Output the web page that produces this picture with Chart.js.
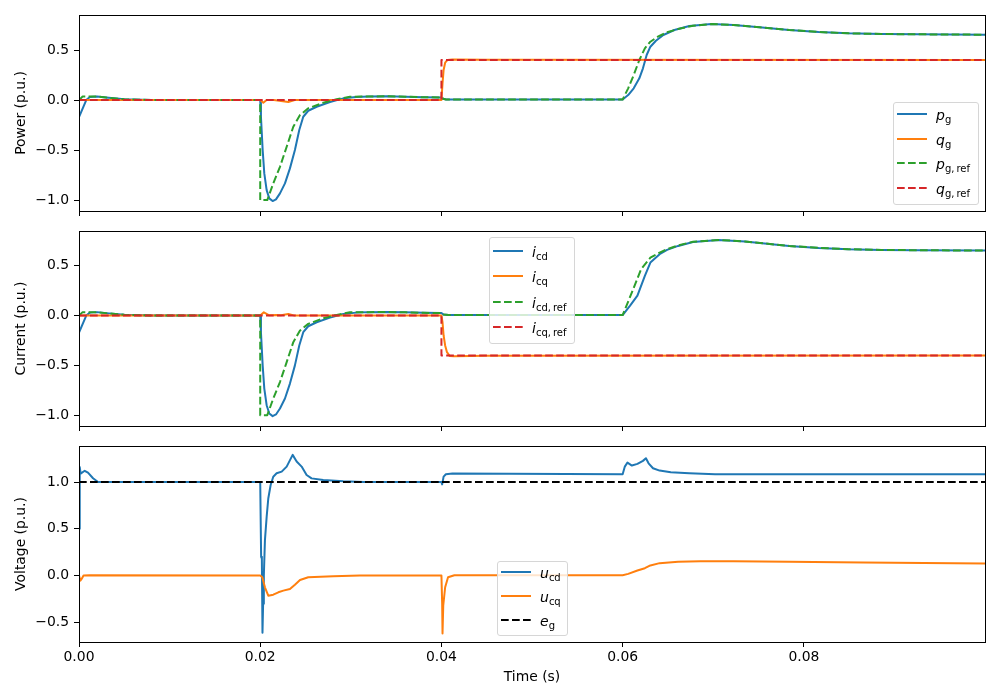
<!DOCTYPE html>
<html>
<head>
<meta charset="utf-8">
<script src="https://cdn.jsdelivr.net/npm/chart.js@4.4.1/dist/chart.umd.min.js"></script>
<style>
  body { margin: 0; background: #fff; }
  #wrap { position: relative; width: 1000px; height: 700px; font-family: 'DejaVu Sans', sans-serif; }
  #wrap canvas { position: absolute; left: 0; }
  .legend { position: absolute; background: rgba(255,255,255,0.8); border: 1px solid #d6d6d6; border-radius: 3px; box-sizing: border-box; }
  .legend .row { position: absolute; left: 0; height: 0; }
  .legend svg { position: absolute; left: 3px; top: -2px; }
  .legend .lab { position: absolute; left: 42px; top: -8px; font-size: 14px; line-height: 18px; white-space: nowrap; color: #000; }
  .lab i { font-style: italic; }
  .lab sub { font-size: 10px; vertical-align: -3px; line-height: 0; }
</style>
</head>
<body>
<div id="wrap">
  <canvas id="cPower" width="1000" height="225" style="top:0"></canvas>
  <canvas id="cCurrent" width="1000" height="215" style="top:225px"></canvas>
  <canvas id="cVoltage" width="1000" height="260" style="top:440px"></canvas>
</div>
<script>
// ---- data ----
const xTicks = [0, 0.02, 0.04, 0.06, 0.08];
const yTicksPI = [-1.0, -0.5, 0.0, 0.5];
const yTicksU = [-0.5, 0.0, 0.5, 1.0];
const tEnd = 0.09999;

// Power panel
const tPg = [0, 0.0008, 0.0012, 0.002, 0.003, 0.005, 0.008, 0.02, 0.02008, 0.02027, 0.02045, 0.02071, 0.021, 0.02137, 0.02174, 0.02218, 0.02273, 0.02328, 0.02383, 0.02431, 0.02475, 0.0253, 0.02623, 0.0277, 0.02917, 0.0306, 0.032, 0.034, 0.036, 0.038, 0.04, 0.0402, 0.0405, 0.06, 0.06061, 0.06122, 0.06184, 0.06224, 0.06265, 0.06306, 0.06367, 0.06449, 0.06571, 0.06735, 0.0698, 0.07224, 0.0751, 0.07837, 0.08163, 0.0849, 0.08857, 0.09265, 0.09999];
const pg = [-0.17, 0.0, 0.03, 0.035, 0.025, 0.008, 0.0, 0.0, -0.167, -0.5, -0.733, -0.9, -0.983, -1.01, -0.993, -0.933, -0.833, -0.683, -0.5, -0.3, -0.167, -0.107, -0.067, -0.02, 0.017, 0.03, 0.035, 0.037, 0.033, 0.028, 0.026, 0.012, 0.006, 0.006, 0.05, 0.117, 0.217, 0.317, 0.45, 0.533, 0.593, 0.65, 0.70, 0.74, 0.76, 0.75, 0.727, 0.70, 0.68, 0.667, 0.66, 0.657, 0.653];
const tPgRef = [0, 0.0004, 0.0012, 0.002, 0.003, 0.005, 0.008, 0.02, 0.02, 0.02078, 0.02144, 0.02218, 0.02292, 0.02365, 0.02439, 0.0253, 0.02696, 0.02843, 0.0299, 0.032, 0.034, 0.036, 0.038, 0.04, 0.0402, 0.0405, 0.06, 0.06061, 0.06122, 0.06184, 0.06245, 0.06306, 0.06388, 0.0649, 0.06612, 0.06776, 0.0698, 0.07224, 0.0751, 0.07837, 0.08163, 0.0849, 0.08857, 0.09265, 0.09999];
const pgRef = [0.0, 0.035, 0.035, 0.035, 0.025, 0.008, 0.0, 0.0, -1.0, -1.0, -0.833, -0.667, -0.467, -0.267, -0.15, -0.083, -0.027, 0.007, 0.033, 0.035, 0.037, 0.033, 0.028, 0.026, 0.012, 0.006, 0.006, 0.117, 0.25, 0.40, 0.517, 0.583, 0.633, 0.677, 0.71, 0.743, 0.76, 0.75, 0.727, 0.70, 0.68, 0.667, 0.66, 0.657, 0.653];
const tQg = [0, 0.02, 0.02034, 0.0207, 0.0215, 0.0231, 0.0238, 0.04, 0.04012, 0.04024, 0.04041, 0.04065, 0.0412, 0.045, 0.09999];
const qg = [0, 0, -0.027, 0, 0, -0.02, 0, 0, 0.167, 0.3, 0.373, 0.4, 0.405, 0.402, 0.4];
const tQgRef = [0, 0.04, 0.04, 0.09999];
const qgRef = [0, 0, 0.4, 0.4];

// Current panel
const tIcd = [0, 0.0008, 0.0012, 0.002, 0.003, 0.005, 0.008, 0.02, 0.02008, 0.02027, 0.02045, 0.02071, 0.021, 0.02137, 0.02174, 0.02218, 0.02273, 0.02328, 0.02383, 0.02431, 0.02475, 0.0253, 0.02623, 0.0277, 0.02917, 0.0306, 0.032, 0.034, 0.036, 0.038, 0.04, 0.0402, 0.0408, 0.06, 0.06082, 0.06163, 0.06245, 0.06306, 0.06408, 0.0649, 0.06612, 0.06776, 0.0706, 0.0735, 0.07837, 0.08163, 0.0849, 0.08857, 0.09265, 0.09999];
const icd = [-0.17, 0.0, 0.03, 0.035, 0.025, 0.008, 0.0, 0.0, -0.167, -0.5, -0.733, -0.9, -0.983, -1.01, -0.993, -0.933, -0.833, -0.683, -0.5, -0.3, -0.167, -0.107, -0.067, -0.02, 0.017, 0.03, 0.035, 0.037, 0.033, 0.028, 0.026, 0.012, 0.005, 0.005, 0.1, 0.2, 0.4, 0.533, 0.617, 0.66, 0.70, 0.74, 0.76, 0.745, 0.70, 0.68, 0.667, 0.66, 0.657, 0.653];
const tIcdRef = [0, 0.0004, 0.0012, 0.002, 0.003, 0.005, 0.008, 0.02, 0.02, 0.02078, 0.02144, 0.02218, 0.02292, 0.02365, 0.02439, 0.0253, 0.02696, 0.02843, 0.0299, 0.032, 0.034, 0.036, 0.038, 0.04, 0.0402, 0.0408, 0.06, 0.06102, 0.06204, 0.06306, 0.06408, 0.0649, 0.06612, 0.06776, 0.0706, 0.0735, 0.07837, 0.08163, 0.0849, 0.08857, 0.09265, 0.09999];
const icdRef = [0.0, 0.035, 0.035, 0.035, 0.025, 0.008, 0.0, 0.0, -1.0, -1.0, -0.833, -0.667, -0.467, -0.267, -0.15, -0.083, -0.027, 0.007, 0.033, 0.035, 0.037, 0.033, 0.028, 0.026, 0.012, 0.005, 0.005, 0.233, 0.467, 0.583, 0.633, 0.667, 0.705, 0.742, 0.76, 0.745, 0.70, 0.68, 0.667, 0.66, 0.657, 0.653];
const tIcq = [0, 0.02, 0.0204, 0.021, 0.0218, 0.0223, 0.0231, 0.0238, 0.04, 0.04012, 0.04024, 0.04041, 0.04061, 0.0409, 0.0414, 0.045, 0.09999];
const icq = [0, 0, 0.033, 0.003, 0.007, 0.003, 0.017, 0, 0.0, -0.067, -0.2, -0.3, -0.367, -0.405, -0.408, -0.403, -0.4];
const tIcqRef = [0, 0.04, 0.04, 0.09999];
const icqRef = [0, 0, -0.4, -0.4];

// Voltage panel
const tUcd = [0, 0.00008, 0.00018, 0.00063, 0.00099, 0.00155, 0.0021, 0.02, 0.02008, 0.0201, 0.02018, 0.02025, 0.02032, 0.0204, 0.02052, 0.02071, 0.02089, 0.02115, 0.02144, 0.02181, 0.02237, 0.02292, 0.02358, 0.02402, 0.02457, 0.02512, 0.02567, 0.02696, 0.02917, 0.0314, 0.04, 0.04008, 0.04024, 0.04049, 0.04122, 0.06, 0.06024, 0.06053, 0.06102, 0.06163, 0.06224, 0.06257, 0.06286, 0.06335, 0.06408, 0.06531, 0.06735, 0.0702, 0.09999];
const ucd = [0.5, 1.16, 1.09, 1.12, 1.1, 1.04, 1.0, 1.0, 1.0, 0.2, 0.18, -0.61, -0.3, 0.0, 0.376, 0.627, 0.824, 0.968, 1.057, 1.093, 1.111, 1.165, 1.29, 1.219, 1.165, 1.075, 1.039, 1.021, 1.007, 1.0, 1.0, 0.975, 1.057, 1.083, 1.09, 1.083, 1.165, 1.208, 1.176, 1.194, 1.226, 1.254, 1.2, 1.147, 1.122, 1.104, 1.093, 1.083, 1.083];
const tUcq = [0, 0.00015, 0.00029, 0.0005, 0.00118, 0.02, 0.02023, 0.02052, 0.02089, 0.02144, 0.022, 0.02255, 0.02328, 0.02383, 0.02439, 0.0253, 0.02806, 0.031, 0.04, 0.04008, 0.04012, 0.0402, 0.04041, 0.04073, 0.04143, 0.06, 0.06061, 0.06163, 0.06245, 0.06306, 0.06408, 0.06612, 0.06857, 0.07224, 0.07837, 0.08653, 0.09999];
const ucq = [0, -0.054, -0.036, 0, 0.004, 0, -0.018, -0.125, -0.215, -0.204, -0.179, -0.161, -0.143, -0.097, -0.047, -0.018, -0.007, 0, 0, -0.3, -0.62, -0.32, -0.125, -0.018, 0.004, 0.004, 0.018, 0.054, 0.079, 0.108, 0.133, 0.147, 0.154, 0.154, 0.147, 0.14, 0.129];
const tEg = [0, 0.09999];
const eg = [1, 1];

// ---- drawing ----
const C = { blue: '#1f77b4', orange: '#ff7f0e', green: '#2ca02c', red: '#d62728', black: '#000000' };
const DASH = [7.7, 3.3];

Chart.defaults.font.family = "'DejaVu Sans', sans-serif";
Chart.defaults.font.size = 13.9;
Chart.defaults.color = '#000';

// box around the plot area, like matplotlib spines
const frame = {
  id: 'frame',
  afterDatasetsDraw(chart) {
    const { ctx, chartArea: a } = chart;
    ctx.save();
    ctx.strokeStyle = '#000';
    ctx.lineWidth = 1;
    ctx.strokeRect(Math.round(a.left) + 0.5, Math.round(a.top) + 0.5, Math.round(a.right - a.left), Math.round(a.bottom - a.top));
    ctx.restore();
  }
};

function line(t, v, color, dashed, i) {
  return {
    data: t.map((x, k) => ({ x, y: v[k] })),
    borderColor: color,
    borderWidth: 2,
    borderDash: dashed ? DASH : [],
    borderJoinStyle: 'round',
    pointRadius: 0,
    tension: 0,
    fill: false,
    order: -i
  };
}

const fmtMinus = s => s.replace('-', '\u2212');

function makeChart(id, datasets, o) {
  return new Chart(document.getElementById(id), {
    type: 'line',
    data: { datasets: datasets.map((d, i) => line(d[0], d[1], d[2], d[3], i)) },
    options: {
      responsive: false,
      animation: false,
      events: [],
      layout: { padding: { left: 0, right: 15, top: o.padTop, bottom: 0 } },
      plugins: { legend: { display: false }, tooltip: { enabled: false } },
      scales: {
        x: {
          type: 'linear', min: 0, max: tEnd,
          afterBuildTicks: s => { s.ticks = xTicks.map(value => ({ value })); },
          afterFit: s => { s.height = o.xHeight; s.paddingLeft = 0; s.paddingRight = 0; },
          grid: { drawOnChartArea: false, drawTicks: true, tickLength: 5, color: '#000', tickWidth: 1 },
          border: { display: false },
          ticks: { display: o.xLabels, autoSkip: false, maxRotation: 0, padding: 2,
                   callback: v => v.toFixed(2) },
          title: { display: o.xLabels, text: 'Time (s)', padding: { top: 0, bottom: 14.6 } }
        },
        y: {
          type: 'linear', min: o.yMin, max: o.yMax,
          afterBuildTicks: s => { s.ticks = o.yTicks.map(value => ({ value })); },
          afterFit: s => { s.width = 79; s.paddingTop = 0; s.paddingBottom = 0; },
          grid: { drawOnChartArea: false, drawTicks: true, tickLength: 5, color: '#000', tickWidth: 1 },
          border: { display: false },
          ticks: { padding: 5, callback: v => fmtMinus(v.toFixed(1)) },
          title: { display: true, text: o.yTitle, padding: { top: 12.7, bottom: 0 } }
        }
      }
    },
    plugins: [frame]
  });
}

makeChart('cPower', [
  [tPg, pg, C.blue, false],
  [tQg, qg, C.orange, false],
  [tPgRef, pgRef, C.green, true],
  [tQgRef, qgRef, C.red, true]
], { padTop: 15, xHeight: 14, xLabels: false, yMin: -1.109, yMax: 0.85, yTicks: yTicksPI, yTitle: 'Power (p.u.)' });

makeChart('cCurrent', [
  [tIcd, icd, C.blue, false],
  [tIcq, icq, C.orange, false],
  [tIcdRef, icdRef, C.green, true],
  [tIcqRef, icqRef, C.red, true]
], { padTop: 6, xHeight: 14, xLabels: false, yMin: -1.109, yMax: 0.85, yTicks: yTicksPI, yTitle: 'Current (p.u.)' });

makeChart('cVoltage', [
  [tUcd, ucd, C.blue, false],
  [tUcq, ucq, C.orange, false],
  [tEg, eg, C.black, true]
], { padTop: 6, xHeight: 58, xLabels: true, yMin: -0.71, yMax: 1.385, yTicks: yTicksU, yTitle: 'Voltage (p.u.)' });

// ---- legends (HTML so the math subscripts stay real text) ----
const wrap = document.getElementById('wrap');
function legend(box, rowTop, rowGap, items) {
  const el = document.createElement('div');
  el.className = 'legend';
  Object.assign(el.style, { left: box[0] + 'px', top: box[1] + 'px', width: box[2] + 'px', height: box[3] + 'px' });
  items.forEach((it, i) => {
    const row = document.createElement('div');
    row.className = 'row';
    row.style.top = (rowTop + i * rowGap) + 'px';
    const dash = it[2] ? ' stroke-dasharray="' + DASH.join(' ') + '"' : '';
    row.innerHTML = '<svg width="30" height="4"><line x1="0" y1="2" x2="30" y2="2" stroke="' + it[1] + '" stroke-width="2"' + dash + '/></svg>' +
      '<span class="lab">' + it[0] + '</span>';
    el.appendChild(row);
  });
  wrap.appendChild(el);
}

legend([893, 102, 86, 103], 11, 24.6, [
  ['<i>p</i><sub>g</sub>', C.blue, false],
  ['<i>q</i><sub>g</sub>', C.orange, false],
  ['<i>p</i><sub>g,&#8201;ref</sub>', C.green, true],
  ['<i>q</i><sub>g,&#8201;ref</sub>', C.red, true]
]);
legend([489, 237, 86, 107], 13, 25.3, [
  ['<i>i</i><sub>cd</sub>', C.blue, false],
  ['<i>i</i><sub>cq</sub>', C.orange, false],
  ['<i>i</i><sub>cd,&#8201;ref</sub>', C.green, true],
  ['<i>i</i><sub>cq,&#8201;ref</sub>', C.red, true]
]);
legend([497, 561, 71, 75], 9.5, 24.2, [
  ['<i>u</i><sub>cd</sub>', C.blue, false],
  ['<i>u</i><sub>cq</sub>', C.orange, false],
  ['<i>e</i><sub>g</sub>', C.black, true]
]);
</script>
</body>
</html>
